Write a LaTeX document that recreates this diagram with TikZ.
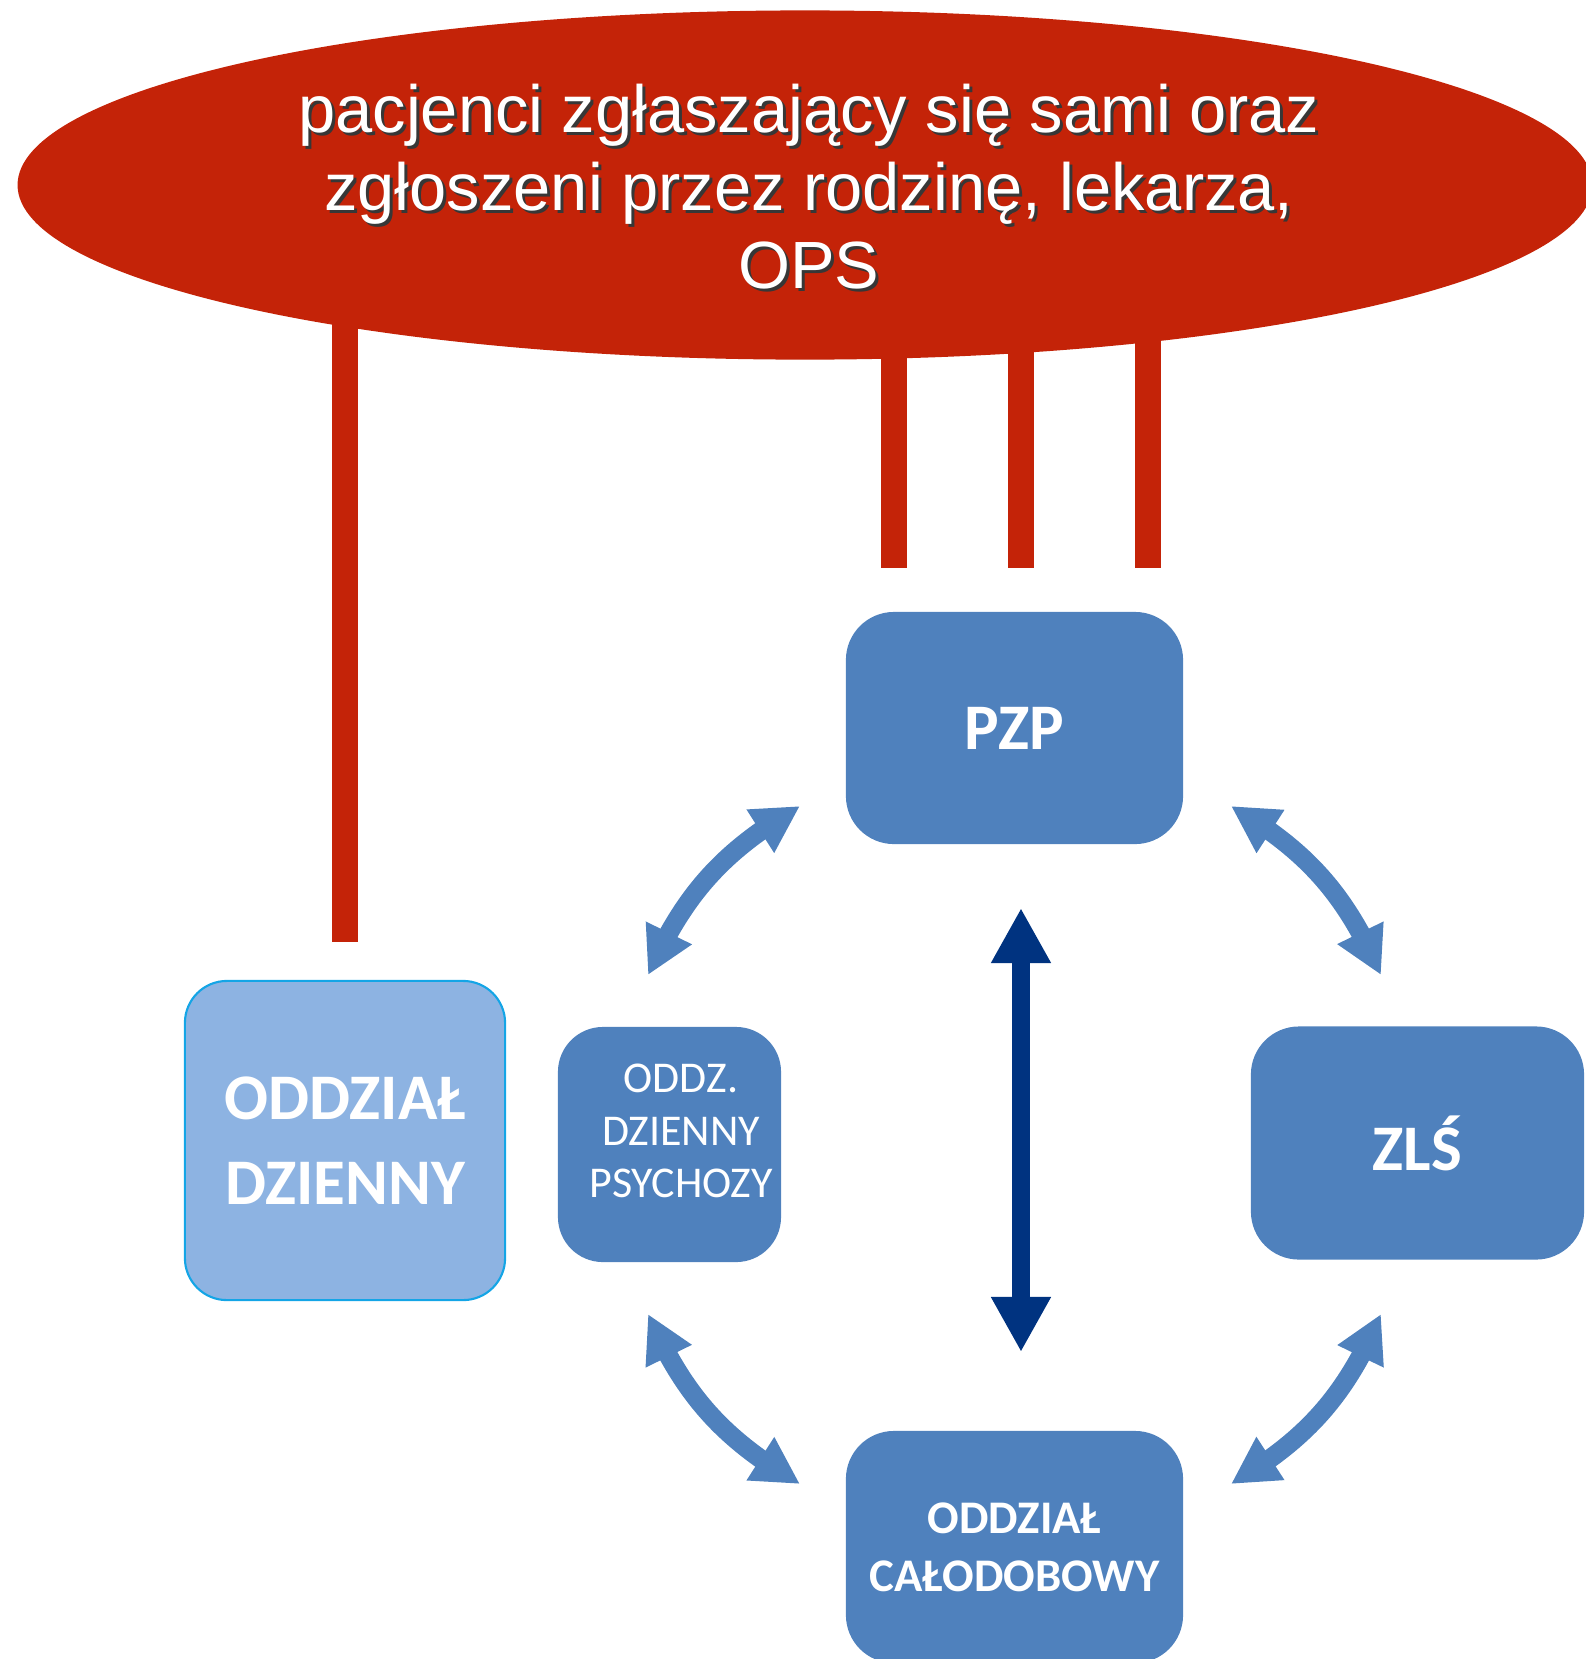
\documentclass[tikz,border=0pt]{standalone}
\usepackage{fontspec}
\setmainfont{Liberation Sans}
\newfontfamily\calibri{Carlito}
\usetikzlibrary{arrows.meta,shapes.geometric,bending}
\definecolor{ellred}{RGB}{196,35,8}
\definecolor{boxblue}{RGB}{79,129,189}
\definecolor{lightblue}{RGB}{141,179,226}
\definecolor{cyanborder}{RGB}{20,165,230}
\definecolor{navy}{RGB}{0,51,128}
\definecolor{shadowgray}{RGB}{55,55,55}
\begin{document}
\begin{tikzpicture}[x=0.01cm,y=-0.01cm,
  box/.style={rectangle, rounded corners=0.48cm, fill=boxblue, draw=none, inner sep=0pt,
    text=white, align=center, font=\calibri\bfseries\fontsize{18.5}{24.2}\selectfont},
  redbar/.style={draw=ellred, line width=0.26cm},
  cyc/.style={draw=boxblue, line width=0.19cm,
    {Triangle[length=0.47cm,width=0.48cm]}-{Triangle[length=0.47cm,width=0.48cm]}},
  vert/.style={draw=navy, line width=0.18cm,
    {Triangle[length=0.55cm,width=0.56cm]}-{Triangle[length=0.55cm,width=0.56cm]}},
  srcfont/.style={font=\fontsize{19}{22.2}\selectfont, align=center}
]
\useasboundingbox (0,0) rectangle (1586,1659);
\clip (0,0) rectangle (1586,1659);

% red bars (behind the ellipse)
\coordinate (b1t) at (345,300);  \coordinate (b1b) at (345,942);
\coordinate (b2t) at (894,300);  \coordinate (b2b) at (894,568);
\coordinate (b3t) at (1021,300); \coordinate (b3b) at (1021,568);
\coordinate (b4t) at (1148,300); \coordinate (b4b) at (1148,568);
\draw[redbar] (b1t) -- (b1b);
\draw[redbar] (b2t) -- (b2b);
\draw[redbar] (b3t) -- (b3b);
\draw[redbar] (b4t) -- (b4b);

% ellipse
\node[ellipse, fill=ellred, draw=none, minimum width=15.74cm, minimum height=3.49cm, inner sep=0pt] (src) at (805,185) {};
\node[srcfont, text=shadowgray] (srcshadow) at (812,190) {pacjenci zgłaszający się sami oraz\\zgłoszeni przez rodzinę, lekarza,\\OPS};
\node[srcfont, text=white] (srctext) at (809,187) {pacjenci zgłaszający się sami oraz\\zgłoszeni przez rodzinę, lekarza,\\OPS};

% boxes
\node[box, minimum width=3.37cm, minimum height=2.32cm] (pzp) at (1014.5,728) {PZP};
\node[box, minimum width=3.33cm, minimum height=2.33cm] (zls) at (1417.5,1143) {ZLŚ};
\node[box, minimum width=3.37cm, minimum height=2.32cm, font=\calibri\bfseries\fontsize{13.3}{16.5}\selectfont] (cal) at (1014.5,1547) {ODDZIAŁ\\CAŁODOBOWY};
\node[box, minimum width=2.23cm, minimum height=2.35cm, rounded corners=0.45cm] (psy) at (669.5,1144.5) {};
\node[text=white, align=center, inner sep=0pt, font=\calibri\fontsize{12.5}{15}\selectfont] (psytext) at (681,1131) {ODDZ.\\DZIENNY\\PSYCHOZY};
\node[box, fill=lightblue, draw=cyanborder, line width=0.6pt, minimum width=3.2cm, minimum height=3.19cm, rounded corners=0.42cm] (odz) at (345,1140.5) {ODDZIAŁ\\DZIENNY};

% curved double arrows
\coordinate (a1s) at (648,975);  \coordinate (a1e) at (800,806);
\coordinate (a2s) at (1231,806); \coordinate (a2e) at (1381,975);
\coordinate (a3s) at (1381,1314); \coordinate (a3e) at (1231,1484);
\coordinate (a4s) at (800,1484); \coordinate (a4e) at (648,1314);
\draw[cyc] (a1s) to[bend left=18] (a1e);
\draw[cyc] (a2s) to[bend left=18] (a2e);
\draw[cyc] (a3s) to[bend left=18] (a3e);
\draw[cyc] (a4s) to[bend left=18] (a4e);

% vertical arrow
\coordinate (vt) at (1021,908); \coordinate (vb) at (1021,1352);
\draw[vert] (vt) -- (vb);
\end{tikzpicture}
\end{document}
